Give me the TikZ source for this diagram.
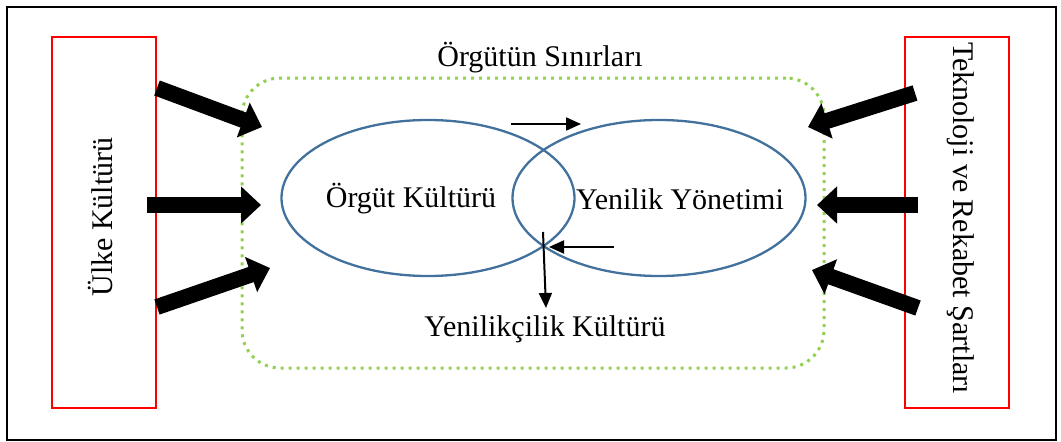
\documentclass[tikz,border=0pt]{standalone}
\usepackage{fontspec}
\setmainfont{Liberation Serif}
\usetikzlibrary{arrows.meta,shapes.geometric}

\definecolor{elipsmavi}{RGB}{65,113,156}
\definecolor{sinyesil}{RGB}{146,208,80}
\tikzset{
  kutu/.style={draw=red, line width=2.2pt, minimum width=104pt, minimum height=371pt, inner sep=0pt},
  elips/.style={ellipse, draw=elipsmavi, line width=2.3pt, minimum width=293pt, minimum height=156pt, inner sep=0pt},
  sinir/.style={draw=sinyesil, line width=3pt, dash pattern=on 3pt off 5pt, rounded corners=38pt, minimum width=582pt, minimum height=290pt, inner sep=0pt},
  yazi/.style={font=\fontsize{30}{36}\selectfont, inner sep=0pt},
  kalinok/.style={line width=16pt, -{Triangle[length=20pt,width=36pt]}},
  inceok/.style={line width=2pt, -{Triangle[length=15pt,width=13pt]}}
}

\begin{document}
\begin{tikzpicture}[x=1pt,y=-1pt]
\useasboundingbox (0,0) rectangle (1061,442);
\draw[line width=2pt] (7,7) rectangle (1056,440); % outer frame
\node[kutu] (ulke) at (104,222.5) {};
\node[kutu] (tekno) at (957,222.5) {};
\node[yazi, rotate=90] (ulkeyazi) at (100,217) {Ülke Kültürü};
\node[yazi, rotate=-90] (teknoyazi) at (961,218) {Teknoloji ve Rekabet Şartları};
\node[sinir] (orgutsinir) at (533,223) {};
\node[elips] (orgut) at (428,198) {};
\node[elips] (yenilik) at (659,198) {};
\node[yazi] (sinirlar) at (540,58) {Örgütün Sınırları};
\node[yazi] (orgutyazi) at (411,199) {Örgüt Kültürü};
\node[yazi] (yenilikyazi) at (680,199) {Yenilik Yönetimi};
\node[yazi] (kultur) at (545,329) {Yenilikçilik Kültürü};

\foreach \xa/\ya/\xb/\yb [count=\i] in {157/88/262/127, 147/205/261/205, 157/307/270/268} % left arrows
{\coordinate (sol\i) at (\xa,\ya); \coordinate (solu\i) at (\xb,\yb);
\draw[kalinok] (sol\i) -- (solu\i);}
\foreach \xa/\ya/\xb/\yb [count=\i] in {915/93/808/127, 918/205/817/205, 918/308/812/270} % right arrows
{\coordinate (sag\i) at (\xa,\ya); \coordinate (sagu\i) at (\xb,\yb);
\draw[kalinok] (sag\i) -- (sagu\i);}

\coordinate (k1) at (511,124); \coordinate (k2) at (581,124);
\coordinate (k3) at (614,247); \coordinate (k4) at (549,247);
\coordinate (k5) at (543,232); \coordinate (k6) at (546,308);
\draw[inceok] (k1) -- (k2);
\draw[inceok] (k3) -- (k4);
\draw[inceok] (k5) -- (k6);

\end{tikzpicture}
\end{document}
